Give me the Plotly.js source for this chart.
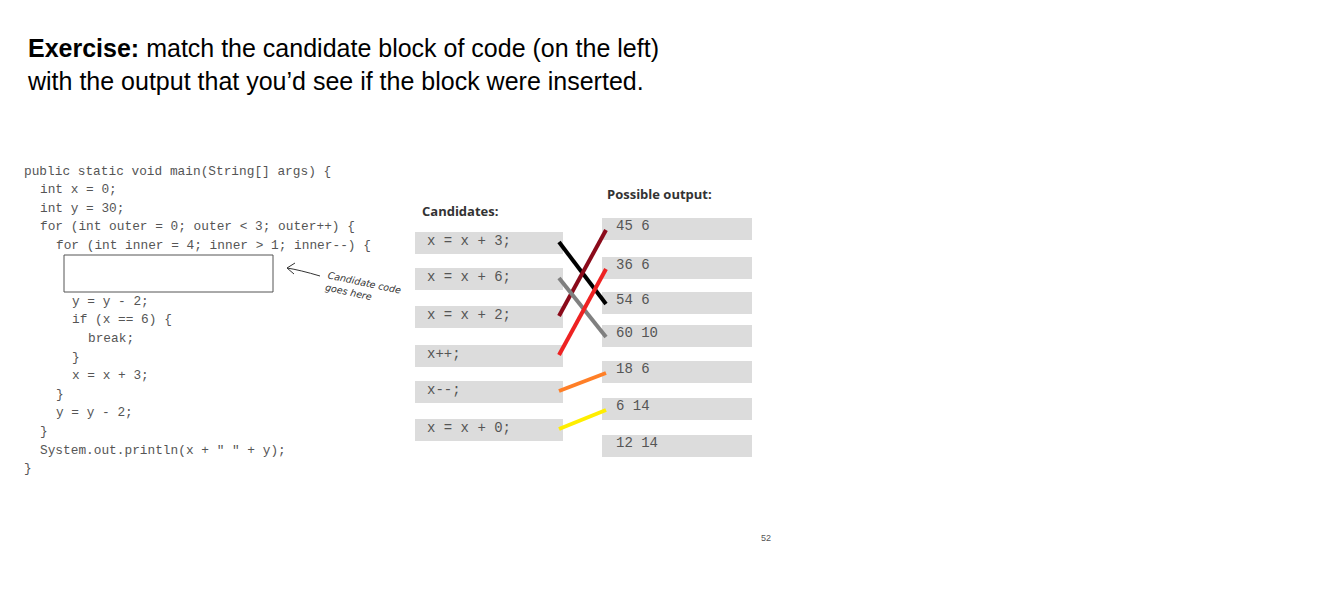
<!DOCTYPE html>
<html>
<head>
<meta charset="utf-8">
<script src="https://cdn.plot.ly/plotly-3.0.1.min.js"></script>
<style>body{margin:0;background:#fff}#slide{width:1331px;height:611px}</style>
</head>
<body>
<div id="slide"></div>
<script>
// slide content
const codeLines = [
  "public static void main(String[] args) {",
  "  int x = 0;",
  "  int y = 30;",
  "  for (int outer = 0; outer < 3; outer++) {",
  "    for (int inner = 4; inner > 1; inner--) {",
  "",
  "",
  "      y = y - 2;",
  "      if (x == 6) {",
  "        break;",
  "      }",
  "      x = x + 3;",
  "    }",
  "    y = y - 2;",
  "  }",
  "  System.out.println(x + \" \" + y);",
  "}"
];
const candidates = ["x = x + 3;", "x = x + 6;", "x = x + 2;", "x++;", "x--;", "x = x + 0;"];
const outputs = ["45 6", "36 6", "54 6", "60 10", "18 6", "6 14", "12 14"];
// matching lines: candidate index -> output index
const matchFrom = [0, 2, 1, 3, 4, 5];
const matchTo = [2, 0, 3, 1, 4, 5];
const matchColors = ["#000000", "#8b0a1a", "#808080", "#ee2222", "#ff7f27", "#ffee00"];

const candTop = [232, 268, 306, 345, 381, 419];
const outTop = [218, 257, 292, 325, 361, 398, 435];
const boxH = 22;

let shapes = [];
let annotations = [];
let traces = [];

annotations.push({x: 25, y: 64, xanchor: "left", yanchor: "middle", showarrow: false, align: "left",
  text: "<b>Exercise:</b> match the candidate block of code (on the left)<br>with the output that you’d see if the block were inserted.",
  font: {family: "Liberation Sans, Arial", size: 25, color: "#000"}});

codeLines.forEach(function(line, i) {
  if (!line) return;
  annotations.push({x: 22 + (line.length - line.trimStart().length) * 8, y: 171 + i * 18.6,
    xanchor: "left", yanchor: "middle", showarrow: false,
    text: line.trim().replace(/</g, "&lt;").replace(/>/g, "&gt;"),
    font: {family: "Liberation Mono, Courier New", size: 12.8, color: "#555"}});
});
shapes.push({type: "rect", x0: 64, x1: 273, y0: 255, y1: 292, line: {color: "#555", width: 1}});
shapes.push({type: "path", path: "M 320,276 Q 300,270 287,268 M 287,268 L 295,263 M 287,268 L 294,274",
  line: {color: "#333", width: 1}});
annotations.push({x: 322, y: 288, xanchor: "left", yanchor: "middle", showarrow: false, textangle: 12,
  align: "left", text: "<i>Candidate code<br>goes here</i>",
  font: {family: "DejaVu Sans", size: 9.5, color: "#333"}});

annotations.push({x: 420, y: 211, xanchor: "left", yanchor: "middle", showarrow: false,
  text: "<b>Candidates:</b>", font: {family: "Open Sans, Liberation Sans", size: 13, color: "#333"}});
annotations.push({x: 605, y: 194, xanchor: "left", yanchor: "middle", showarrow: false,
  text: "<b>Possible output:</b>", font: {family: "Open Sans, Liberation Sans", size: 13, color: "#333"}});

candidates.forEach(function(c, i) {
  shapes.push({type: "rect", x0: 415, x1: 563, y0: candTop[i], y1: candTop[i] + boxH,
    fillcolor: "#dcdcdc", line: {width: 0}, layer: "below"});
  annotations.push({x: 425, y: candTop[i] + 9, xanchor: "left", yanchor: "middle", showarrow: false,
    text: c, font: {family: "Liberation Mono, Courier New", size: 14, color: "#555"}});
});
outputs.forEach(function(o, i) {
  shapes.push({type: "rect", x0: 602, x1: 752, y0: outTop[i], y1: outTop[i] + boxH,
    fillcolor: "#dcdcdc", line: {width: 0}, layer: "below"});
  annotations.push({x: 614, y: outTop[i] + 8, xanchor: "left", yanchor: "middle", showarrow: false,
    text: o, font: {family: "Liberation Mono, Courier New", size: 14, color: "#555"}});
});

matchFrom.forEach(function(f, i) {
  traces.push({type: "scatter", mode: "lines", hoverinfo: "skip",
    x: [559, 606], y: [candTop[f] + 10, outTop[matchTo[i]] + 12],
    line: {color: matchColors[i], width: 4}});
});

annotations.push({x: 766, y: 538, showarrow: false, text: "52",
  font: {family: "Liberation Sans", size: 9, color: "#555"}});

const layout = {
  width: 1331, height: 611, margin: {l: 0, r: 0, t: 0, b: 0},
  paper_bgcolor: "#fff", plot_bgcolor: "#fff", showlegend: false,
  xaxis: {range: [0, 1331], visible: false, fixedrange: true},
  yaxis: {range: [611, 0], visible: false, fixedrange: true},
  shapes: shapes, annotations: annotations
};
Plotly.newPlot("slide", traces, layout, {displayModeBar: false, staticPlot: true});
</script>
</body>
</html>
